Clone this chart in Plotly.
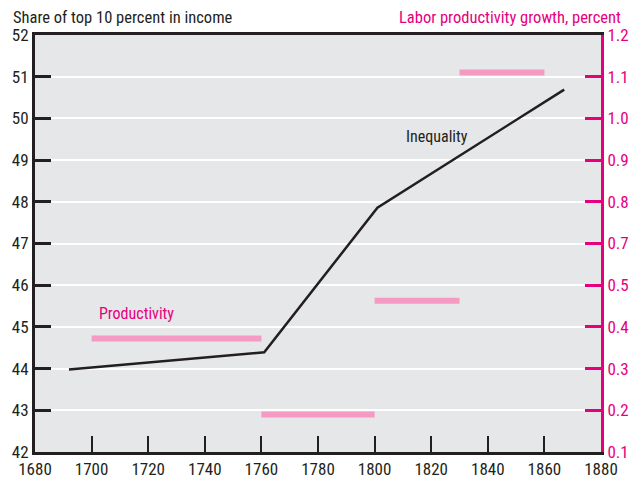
import numpy as np
import plotly.graph_objects as go

# inequality: share of top 10 percent in income
ineq_years = [1692, 1761, 1801, 1867]
ineq_share = [43.98, 44.39, 47.86, 50.69]

# labor productivity growth, percent, by period
prod_start = [1700, 1760, 1800, 1830]
prod_end = [1760, 1800, 1830, 1860]
prod_value = [0.372, 0.19, 0.463, 1.11]

# right axis as printed (no 0.6 label, evenly spaced ticks)
right_labels = ["0.1", "0.2", "0.3", "0.4", "0.5", "0.7", "0.8", "0.9", "1.0", "1.1", "1.2"]
right_pos = np.round(np.linspace(0.1, 1.1, 11), 2)

x_ticks = list(range(1680, 1881, 20))
left_ticks = list(range(42, 53))

FONT = "Liberation Sans Narrow, Roboto Condensed, DejaVu Sans Condensed, Arial Narrow, sans-serif"
MAGENTA = "#e6007e"
PINK = "#f59ac2"
DARK = "#231f20"

label_num = [float(t) for t in right_labels]
prod_pos = np.interp(prod_value, label_num, right_pos)

fig = go.Figure()

px, py = [], []
for s, e, v in zip(prod_start, prod_end, prod_pos):
    px += [s, e, None]
    py += [v, v, None]
fig.add_trace(go.Scatter(x=px, y=py, mode="lines", yaxis="y2",
                         line=dict(color=PINK, width=6), hoverinfo="skip"))

fig.add_trace(go.Scatter(x=ineq_years, y=ineq_share, mode="lines",
                         line=dict(color=DARK, width=2.5)))

fig.update_layout(
    width=641, height=491,
    margin=dict(l=34, r=30, t=35, b=26),
    paper_bgcolor="white",
    plot_bgcolor="#e6e7e8",
    showlegend=False,
    font=dict(family=FONT, size=16, color=DARK),
    xaxis=dict(range=[1680, 1880], tickvals=x_ticks, showgrid=False, zeroline=False,
               showline=True, linecolor=DARK, linewidth=3, mirror=True,
               ticks="inside", ticklen=16, tickwidth=2, tickcolor=DARK,
               tickfont=dict(size=17)),
    yaxis=dict(range=[42, 52], tickvals=left_ticks, showgrid=True, gridcolor="white",
               gridwidth=2, zeroline=False, showline=True, linecolor=DARK, linewidth=3,
               ticks="inside", ticklen=16, tickwidth=2.5, tickcolor=DARK,
               tickfont=dict(size=17)),
    yaxis2=dict(range=[0.1, 1.1], tickvals=list(right_pos), ticktext=right_labels,
                overlaying="y", side="right", showgrid=False, zeroline=False,
                showline=True, linecolor=MAGENTA, linewidth=3,
                ticks="inside", ticklen=16, tickwidth=2.5, tickcolor=MAGENTA,
                tickfont=dict(size=17, color=MAGENTA)),
    annotations=[
        dict(text="Share of top 10 percent in income", xref="paper", yref="paper",
             x=-0.042, y=1.0, yshift=18, xanchor="left", yanchor="middle",
             showarrow=False, font=dict(size=16.5, color=DARK)),
        dict(text="Labor productivity growth, percent", xref="paper", yref="paper",
             x=1.038, y=1.0, yshift=18, xanchor="right", yanchor="middle",
             showarrow=False, font=dict(size=16.5, color=MAGENTA)),
        dict(text="Inequality", x=1822, y=49.56, showarrow=False,
             font=dict(size=16, color=DARK)),
        dict(text="Productivity", x=1716, y=45.33, showarrow=False,
             font=dict(size=16, color=MAGENTA)),
    ],
)

# drop the default 8px body margin so the figure sits at the page corner
fig.write_html("out.html", config={"displayModeBar": False},
               post_script="document.body.style.margin='0';")
